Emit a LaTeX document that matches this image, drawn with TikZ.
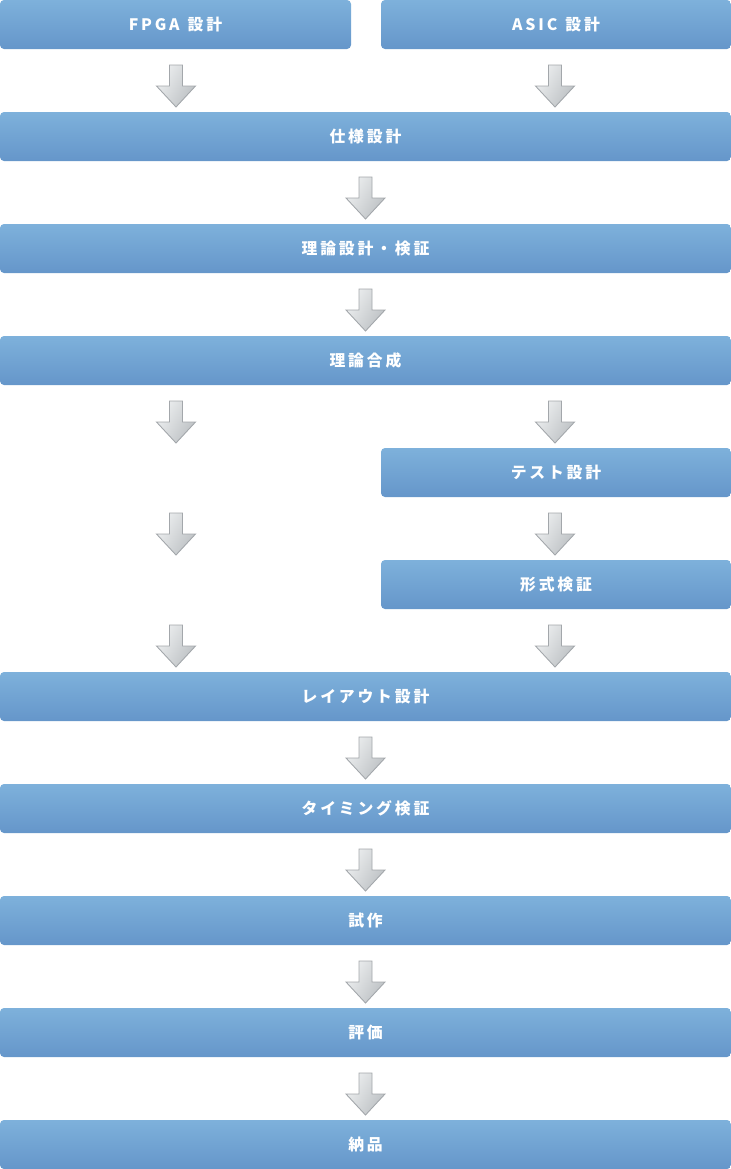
\documentclass[tikz,border=0pt]{standalone}
\usepackage{fontspec}
\usepackage{xcolor}
\usepackage{tikz}
\usetikzlibrary{positioning}
\newfontfamily\jpfont[LetterSpace=18]{Noto Sans CJK JP}
\definecolor{boxtop}{HTML}{7EB1DB}
\definecolor{boxbot}{HTML}{6596CA}
\definecolor{arrowlight}{HTML}{EDEFF0}
\definecolor{arrowdark}{HTML}{BCC0C3}
\definecolor{arrowline}{HTML}{A3A7AB}
\tikzset{
  stage/.style={rectangle, rounded corners=0.08cm, minimum width=14.62cm, minimum height=0.98cm, inner sep=0pt, top color=boxtop, bottom color=boxbot, text=white, font=\jpfont\bfseries\fontsize{9}{11}\selectfont},
  halfstage/.style={stage, minimum width=7.0cm},
  arrowbody/.style={draw=arrowline, line width=0.5pt, left color=arrowlight, right color=arrowdark, shading angle=60},
  flowarrow/.pic={
    \path[arrowbody] (-0.13,0) -- (0.13,0) -- (0.13,-0.42) -- (0.39,-0.42) -- (0,-0.84) -- (-0.39,-0.42) -- (-0.13,-0.42) -- cycle;
  }
}
\begin{document}
\begin{tikzpicture}
    \useasboundingbox (0,0) rectangle (14.62,-23.38);

    \node[halfstage, minimum width=7.02cm] (fpga) at (3.51,-0.49) {FPGA\hspace{0.1em} 設計};
    \node[halfstage] (asic) at (11.12,-0.49) {ASIC\hspace{0.1em} 設計};
    \node[stage] (spec) at (7.31,-2.73) {仕様設計};
    \node[stage] (logic) at (7.31,-4.97) {理論設計・検証};
    \node[stage] (synth) at (7.31,-7.21) {理論合成};
    \node[halfstage] (test) at (11.12,-9.45) {テスト設計};
    \node[halfstage] (formal) at (11.12,-11.69) {形式検証};
    \node[stage] (layout) at (7.31,-13.93) {レイアウト設計};
    \node[stage] (timing) at (7.31,-16.17) {タイミング検証};
    \node[stage] (proto) at (7.31,-18.41) {試作};
    \node[stage] (eval) at (7.31,-20.65) {評価};
    \node[stage] (ship) at (7.31,-22.89) {納品};

    \pic at (3.52,-1.30) {flowarrow};
    \pic at (11.10,-1.30) {flowarrow};
    \pic at (7.31,-3.54) {flowarrow};
    \pic at (7.31,-5.78) {flowarrow};
    \pic at (3.52,-8.02) {flowarrow};
    \pic at (11.10,-8.02) {flowarrow};
    \pic at (3.52,-10.26) {flowarrow};
    \pic at (11.10,-10.26) {flowarrow};
    \pic at (3.52,-12.50) {flowarrow};
    \pic at (11.10,-12.50) {flowarrow};
    \pic at (7.31,-14.74) {flowarrow};
    \pic at (7.31,-16.98) {flowarrow};
    \pic at (7.31,-19.22) {flowarrow};
    \pic at (7.31,-21.46) {flowarrow};
\end{tikzpicture}
\end{document}
